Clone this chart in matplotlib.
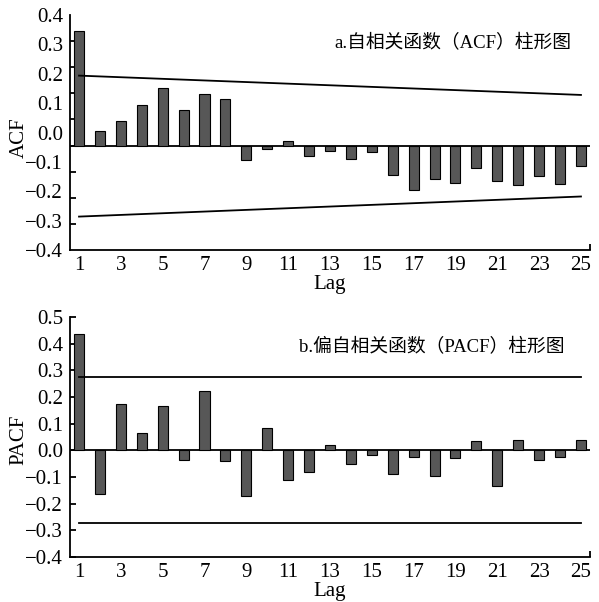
import numpy as np
import matplotlib
matplotlib.use("Agg")
import matplotlib.pyplot as plt
from matplotlib.ticker import FixedLocator, NullFormatter

plt.rcParams['font.family'] = ['Liberation Serif', 'Noto Sans CJK SC']

lags = list(range(1, 26))
acf = [0.437, 0.057, 0.093, 0.157, 0.221, 0.137, 0.198, 0.180, -0.057, -0.015,
       0.017, -0.038, -0.019, -0.051, -0.026, -0.112, -0.172, -0.128, -0.144, -0.087,
       -0.137, -0.151, -0.115, -0.147, -0.080]
pacf = [0.435, -0.164, 0.173, 0.063, 0.165, -0.035, 0.221, -0.039, -0.170, 0.084,
        -0.113, -0.080, 0.018, -0.051, -0.016, -0.089, -0.026, -0.098, -0.030, 0.034,
        -0.135, 0.040, -0.038, -0.026, 0.040]

# confidence bounds (ACF bounds drawn as straight lines from lag 1 to lag 25)
bound_lags = [1, 25]
acf_upper = [0.268, 0.194]
acf_lower = [-0.272, -0.195]
pacf_upper = 0.274
pacf_lower = -0.273

acf_ticklabels = ["0.4", "0.3", "0.2", "0.1", "0.0", "\u22120.1", "\u22120.2", "\u22120.3", "\u22120.4"]
pacf_ticklabels = ["\u22120.4", "\u22120.3", "\u22120.2", "\u22120.1", "0.0", "0.1", "0.2", "0.3", "0.4", "0.5"]
xtick_lags = list(range(1, 26, 2))

title_a = "a.自相关函数（ACF）柱形图"
title_b = "b.偏自相关函数（PACF）柱形图"

bar_color = "#575757"
fs = 15

fig = plt.figure(figsize=(5.99, 6.02), dpi=100)
ax1 = fig.add_axes([0.1169, 0.5847, 0.868, 0.3903])
ax2 = fig.add_axes([0.1169, 0.0748, 0.868, 0.3987])

xlim = (0.57, 25.43)
yticks = np.round(np.arange(-0.4, 0.51, 0.1), 1)

for ax in (ax1, ax2):
    ax.set_xlim(*xlim)
    ax.set_ylim(-0.4, 0.5)
    for s in ("top", "right"):
        ax.spines[s].set_visible(False)
    for s in ("left", "bottom"):
        ax.spines[s].set_linewidth(1.3)
    ax.axhline(0, color="black", lw=1.3, zorder=1)
    ax.set_xticks(xtick_lags)
    ax.set_xticklabels([str(v) for v in xtick_lags], fontsize=fs)
    ax.tick_params(axis="x", which="major", length=0, pad=4)
    ax.xaxis.set_minor_locator(FixedLocator([xlim[1]]))
    ax.tick_params(axis="x", which="minor", direction="in", length=4, width=1.3)
    ax.set_xlabel("Lag", fontsize=fs)
    ax.xaxis.set_label_coords(0.5, -0.105)

# ACF panel
ax1.bar(lags, acf, width=0.48, color=bar_color, edgecolor="black", lw=0.8, zorder=2)
ax1.plot(bound_lags, acf_upper, color="black", lw=1.3)
ax1.plot(bound_lags, acf_lower, color="black", lw=1.3)
# labels of the original are spread evenly over the axis height
ax1.set_yticks(np.linspace(0.5, -0.4, len(acf_ticklabels)))
ax1.set_yticklabels(acf_ticklabels, fontsize=fs)
ax1.tick_params(axis="y", which="major", length=0, pad=5)
ax1.yaxis.set_minor_locator(FixedLocator(yticks))
ax1.yaxis.set_minor_formatter(NullFormatter())
ax1.tick_params(axis="y", which="minor", direction="in", length=4, width=1.3)
ax1.set_ylabel("ACF", fontsize=fs)
ax1.yaxis.set_label_coords(-0.08, 0.48)
ax1.text(0.736, 0.881, title_a, transform=ax1.transAxes, ha="center", va="center", fontsize=13.5)

# PACF panel
ax2.bar(lags, pacf, width=0.48, color=bar_color, edgecolor="black", lw=0.8, zorder=2)
ax2.plot(bound_lags, [pacf_upper] * 2, color="black", lw=1.3)
ax2.plot(bound_lags, [pacf_lower] * 2, color="black", lw=1.3)
ax2.set_yticks(yticks)
ax2.set_yticklabels(pacf_ticklabels, fontsize=fs)
ax2.tick_params(axis="y", which="major", direction="in", length=4, width=1.3, pad=5)
ax2.set_ylabel("PACF", fontsize=fs)
ax2.yaxis.set_label_coords(-0.08, 0.49)
ax2.text(0.695, 0.875, title_b, transform=ax2.transAxes, ha="center", va="center", fontsize=13.5)

fig.savefig("out.png", dpi=100)
